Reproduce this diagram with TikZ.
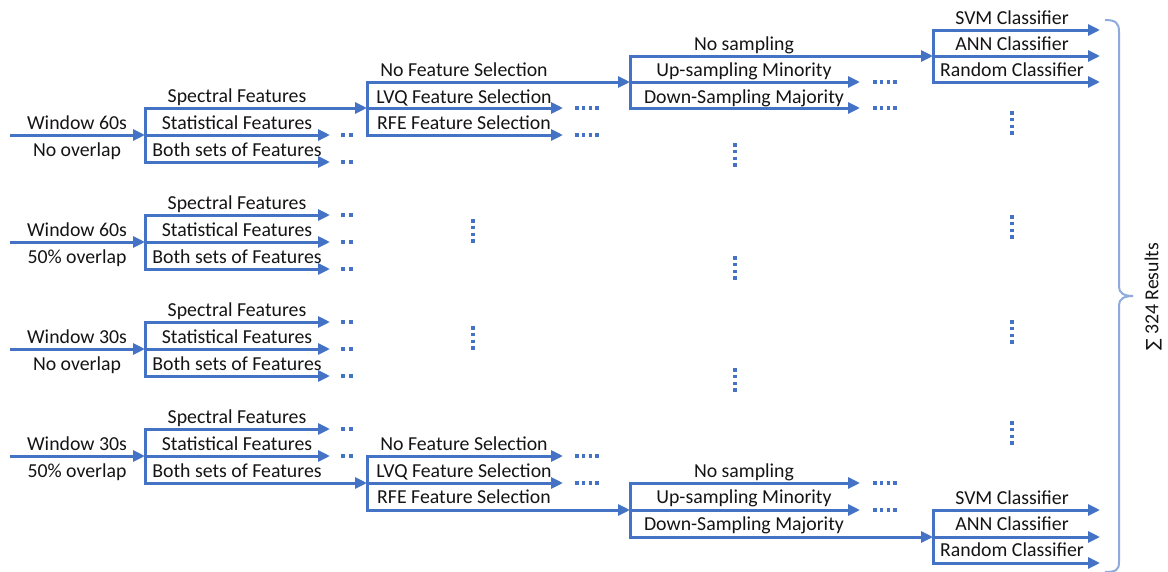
\documentclass[tikz,border=0pt]{standalone}
\usepackage{fontspec}
\setmainfont{Carlito}
\newfontfamily\symfont{DejaVu Sans}
\usetikzlibrary{arrows.meta}
\definecolor{flowblue}{HTML}{4472C4}
\definecolor{bracecol}{HTML}{8FAADC}
\definecolor{txt}{HTML}{141414}
\begin{document}
\begin{tikzpicture}[x=1pt,y=-1pt,
  flow/.style={draw=flowblue,line width=3,-{Triangle[length=12,width=11]}},
  bar/.style={draw=flowblue,line width=3,line cap=rect},
  lbl/.style={anchor=base,inner sep=0,text=txt,font=\fontsize{19.8}{21}\selectfont},
  twodots/.style={draw=flowblue,line width=3.4,dash pattern=on 3.4 off 4.6},
  fourdots/.style={draw=flowblue,line width=3.4,dash pattern=on 3.4 off 3.3},
  bracepath/.style={draw=bracecol,line width=2}]
\useasboundingbox (0,0) rectangle (1168,571);

% ---- four windowing set-ups, each splitting into three feature sets
\foreach \g/\Y/\wa/\wb in {1/135/Window 60s/No overlap,2/242/Window 60s/50\% overlap,
                           3/349/Window 30s/No overlap,4/456/Window 30s/50\% overlap}{
  \coordinate (win\g) at (10,\Y);
  \coordinate (fbar\g) at (145,\Y);
  \coordinate (fbar\g t) at (145,\Y-27);
  \coordinate (fbar\g b) at (145,\Y+27);
  \draw[bar] (fbar\g t) -- (fbar\g b);
  \draw[flow] (win\g) -- (fbar\g);
  \node[lbl] (wa\g) at (77,\Y-6) {\wa};
  \node[lbl] (wb\g) at (77,\Y+21) {\wb};
  \node[lbl] (spec\g) at (237,\Y-33) {Spectral Features};
  \node[lbl] (stat\g) at (237,\Y-6) {Statistical Features};
  \node[lbl] (both\g) at (237,\Y+21) {Both sets of Features};
}

% feature branches: y / end x / trailing dots
\foreach \y/\e/\d [count=\i] in {108/367/0,135/330/1,162/330/1,
                                 215/330/1,242/330/1,269/330/1,
                                 322/330/1,349/330/1,376/330/1,
                                 429/330/1,456/330/1,483/367/0}{
  \coordinate (fs\i) at (145,\y);
  \coordinate (fe\i) at (\e,\y);
  \draw[flow] (fs\i) -- (fe\i);
  \ifnum\d=1 \draw[twodots] (341.3,\y) -- (352.7,\y);\fi
}

% ---- feature selection (top and bottom)
\coordinate (selT1) at (367,82);  \coordinate (selT3) at (367,135);
\coordinate (selB1) at (367,456); \coordinate (selB3) at (367,510);
\draw[bar] (selT1) -- (selT3);
\draw[bar] (selB1) -- (selB3);
\foreach \y/\e/\d [count=\i] in {82/630/0,108/563/1,135/563/1,456/563/1,483/563/1,510/630/0}{
  \coordinate (ss\i) at (367,\y);
  \coordinate (se\i) at (\e,\y);
  \draw[flow] (ss\i) -- (se\i);
  \ifnum\d=1 \draw[fourdots] (575.3,\y) -- (598.7,\y);\fi
}
\foreach \p/\yy in {T/76,B/450}{
  \node[lbl] (nofs\p) at (464,\yy) {No Feature Selection};
  \node[lbl] (lvq\p) at (464,\yy+27) {LVQ Feature Selection};
  \node[lbl] (rfe\p) at (464,\yy+53) {RFE Feature Selection};
}

% ---- sampling (top and bottom)
\coordinate (smpT1) at (630,56);  \coordinate (smpT3) at (630,108);
\coordinate (smpB1) at (630,483); \coordinate (smpB3) at (630,537);
\draw[bar] (smpT1) -- (smpT3);
\draw[bar] (smpB1) -- (smpB3);
\foreach \y/\e/\d [count=\i] in {56/933/0,82/860/1,108/860/1,483/860/1,510/860/1,537/933/0}{
  \coordinate (ms\i) at (630,\y);
  \coordinate (me\i) at (\e,\y);
  \draw[flow] (ms\i) -- (me\i);
  \ifnum\d=1 \draw[fourdots] (873.3,\y) -- (896.7,\y);\fi
}
\foreach \p/\yy in {T/50,B/477}{
  \node[lbl] (nos\p) at (744,\yy) {No sampling};
  \node[lbl] (ups\p) at (744,\yy+26) {Up-sampling Minority};
  \node[lbl] (dns\p) at (744,\yy+53) {Down-Sampling Majority};
}

% ---- classifiers (top and bottom)
\coordinate (clT1) at (933,30);  \coordinate (clT3) at (933,82);
\coordinate (clB1) at (933,510); \coordinate (clB3) at (933,563);
\draw[bar] (clT1) -- (clT3);
\draw[bar] (clB1) -- (clB3);
\foreach \y [count=\i] in {30,56,82,510,537,563}{
  \coordinate (cs\i) at (933,\y);
  \coordinate (ce\i) at (1100,\y);
  \draw[flow] (cs\i) -- (ce\i);
}
\foreach \p/\yy in {T/24,B/504}{
  \node[lbl] (svm\p) at (1012,\yy) {SVM Classifier};
  \node[lbl] (ann\p) at (1012,\yy+26) {ANN Classifier};
  \node[lbl] (rnd\p) at (1012,\yy+52) {Random Classifier};
}

% ---- vertical continuation dots
\foreach \x/\cy in {1012/123,735/155,473/231,1012/227,735/268,473/338,1012/332,735/380,1012/433}{
  \draw[fourdots] (\x,\cy-11.75) -- (\x,\cy+11.75);
}

% ---- brace summing all results
\draw[bracepath] (1105,20) .. controls (1116,20) and (1119,23) .. (1119,32)
  -- (1119,287) .. controls (1119,293) and (1124,296) .. (1133,296)
  .. controls (1124,296) and (1119,299) .. (1119,305)
  -- (1119,562) .. controls (1119,570) and (1116,572) .. (1105,572);
\node[lbl,anchor=center,rotate=90] (total) at (1153,297) {{\symfont\fontsize{17}{19}\selectfont ∑} 324 Results};
\end{tikzpicture}
\end{document}
